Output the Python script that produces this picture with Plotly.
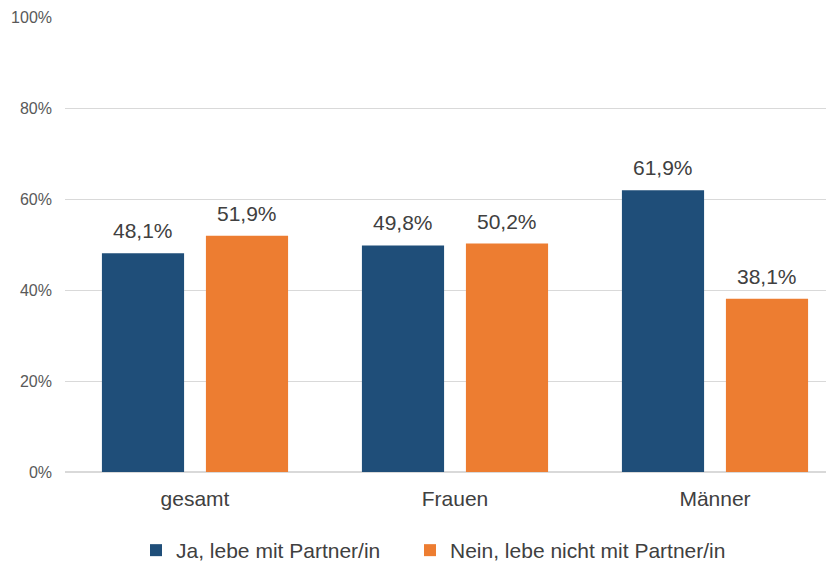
import plotly.graph_objects as go

categories = ["gesamt", "Frauen", "Männer"]
ja_values = [48.1, 49.8, 61.9]
nein_values = [51.9, 50.2, 38.1]
series_names = ["Ja, lebe mit Partner/in", "Nein, lebe nicht mit Partner/in"]
tick_vals = [0, 20, 40, 60, 80, 100]
tick_text = ["0%", "20%", "40%", "60%", "80%", "100%"]

blue = "#1F4E79"
orange = "#ED7D31"
font_family = "Liberation Sans, Arial, sans-serif"

# the page body adds an 8px offset; margins compensate so the plot lands where the reference has it
L, T, B = 57, 9, 98
plot_w = 834 - L

fig = go.Figure()
for name, vals, col, lg in [(series_names[0], ja_values, blue, "legend"),
                            (series_names[1], nein_values, orange, "legend2")]:
    fig.add_trace(go.Bar(
        x=categories, y=vals, name=name, marker=dict(color=col, line=dict(width=0)),
        legend=lg,
    ))

# value labels above each bar
for vals, shift in [(ja_values, -52), (nein_values, 52)]:
    for cat, v in zip(categories, vals):
        fig.add_annotation(
            x=cat, y=v, xref="x", yref="y", text=f"{v:.1f}%".replace(".", ","),
            showarrow=False, yanchor="bottom", xanchor="center", xshift=shift, yshift=9,
            font=dict(size=21, color="#404040", family=font_family),
        )

legend_common = dict(orientation="h", xanchor="left", y=-0.172, yanchor="middle",
                     font=dict(size=21, color="#404040"), borderwidth=0,
                     bgcolor="rgba(0,0,0,0)")

fig.update_layout(
    width=834, height=563,
    margin=dict(l=L, r=0, t=T, b=B),
    paper_bgcolor="white", plot_bgcolor="white",
    barmode="group", bargap=0.2, bargroupgap=0.21,
    separators=",.",
    font=dict(family=font_family, color="#595959"),
    showlegend=True,
    legend=dict(x=(136 - 65) / plot_w, **legend_common),
    legend2=dict(x=(410 - 65) / plot_w, **legend_common),
    xaxis=dict(range=[-0.5, -0.5 + plot_w / 260], showgrid=False, showline=False,
               ticks="", automargin=False, ticklabelstandoff=12,
               tickfont=dict(size=21, color="#404040")),
    yaxis=dict(range=[0, 100], tickvals=tick_vals, ticktext=tick_text, showgrid=True,
               gridcolor="#D9D9D9", gridwidth=1, zeroline=True, zerolinecolor="#D9D9D9",
               showline=False, ticks="", ticklabelstandoff=12, automargin=False,
               tickfont=dict(size=16, color="#595959")),
)

fig.write_html("out.html")
